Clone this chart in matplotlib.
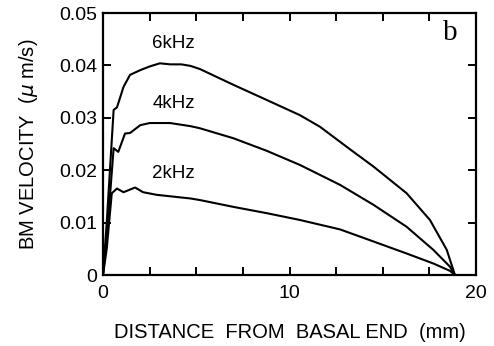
import matplotlib
matplotlib.use("Agg")
import matplotlib.pyplot as plt
from matplotlib.ticker import MultipleLocator

plt.rcParams["font.family"] = ["Liberation Sans", "DejaVu Sans"]

# distance from basal end (mm) and BM velocity (um/s)
x_6k = [0, 0.2, 0.57, 0.75, 1.1, 1.45, 2.0, 2.5, 3.05, 3.6, 4.2, 4.7, 5.2,
        6.99, 8.78, 10.56, 11.63, 13.24, 14.5, 16.28, 17.53, 18.43, 18.87]
v_6k = [0, 0.010, 0.0315, 0.032, 0.0359, 0.0382, 0.0391, 0.0398, 0.0404,
        0.0402, 0.0402, 0.0399, 0.0393, 0.0363, 0.0334, 0.0305, 0.0283,
        0.024, 0.0207, 0.0156, 0.0105, 0.0048, 0]

x_4k = [0, 0.2, 0.57, 0.82, 1.18, 1.45, 2.0, 2.5, 3.6, 4.7, 5.2, 6.99, 8.78,
        10.56, 12.71, 14.5, 16.28, 17.71, 18.6, 18.87]
v_4k = [0, 0.007, 0.0242, 0.0235, 0.027, 0.0271, 0.0286, 0.029, 0.029,
        0.0284, 0.028, 0.0261, 0.0237, 0.021, 0.0172, 0.0134, 0.0092,
        0.0048, 0.0016, 0]

x_2k = [0, 0.2, 0.47, 0.75, 1.1, 1.72, 2.15, 2.88, 4.7, 5.2, 6.99, 8.78,
        10.56, 12.71, 14.5, 16.28, 17.71, 18.6, 18.87]
v_2k = [0, 0.005, 0.0156, 0.0165, 0.0158, 0.0167, 0.0158, 0.0153, 0.0146,
        0.0143, 0.013, 0.0118, 0.0105, 0.0087, 0.0064, 0.0041, 0.0022,
        0.0008, 0]

labels = ["6kHz", "4kHz", "2kHz"]
label_y = [0.0441, 0.0328, 0.0193]

y_ticks = [0, 0.01, 0.02, 0.03, 0.04, 0.05]
y_ticklabels = ["0", "0.01", "0.02", "0.03", "0.04", "0.05"]

fig = plt.figure(figsize=(4.94, 3.46), dpi=100)
ax = fig.add_axes([0.2085, 0.2052, 0.7551, 0.7572])

for xs, vs in [(x_6k, v_6k), (x_4k, v_4k), (x_2k, v_2k)]:
    ax.plot(xs, vs, color="black", lw=1.5)

for lab, ly in zip(labels, label_y):
    ax.text(3.78, ly, lab, ha="center", va="center", fontsize=13.5)

ax.text(18.6, 0.0462, "b", ha="center", va="center", fontsize=21,
        family=["Liberation Serif", "DejaVu Serif"])

ax.set_xlim(0, 20)
ax.set_ylim(0, 0.05)
ax.xaxis.set_major_locator(MultipleLocator(10))
ax.xaxis.set_minor_locator(MultipleLocator(2.5))
ax.set_yticks(y_ticks)
ax.set_yticklabels(y_ticklabels)
ax.tick_params(which="both", direction="in", top=True, right=True,
               length=6, width=1.4, labelsize=14, pad=4)
ax.tick_params(axis="x", pad=7)
for sp in ax.spines.values():
    sp.set_linewidth(1.6)

ax.set_xlabel("DISTANCE  FROM  BASAL END  (mm)", fontsize=14.5, labelpad=15)
ax.set_ylabel("BM VELOCITY  ($\\mu$ m/s)", fontsize=14.5, labelpad=14)

fig.savefig("out.png", dpi=100)
